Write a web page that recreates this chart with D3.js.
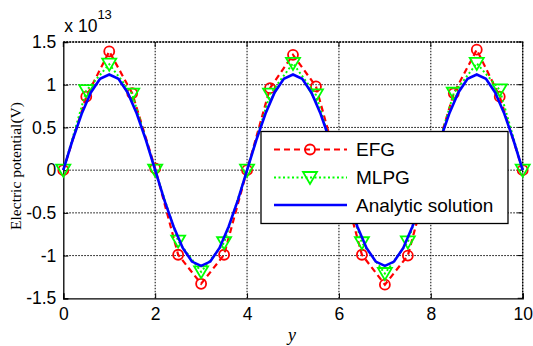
<!DOCTYPE html>
<html>
<head>
<meta charset="utf-8">
<script src="https://cdn.jsdelivr.net/npm/d3@7"></script>
<style>
  body { margin: 0; background: #fff; }
  svg { display: block; }
</style>
</head>
<body>
<div id="chart"></div>
<script>
// sample positions (y coordinate along the domain)
const nodeX = [0, 0.5, 1, 1.5, 2, 2.5, 3, 3.5, 4, 4.5, 5, 5.5, 6, 6.5, 7, 7.5, 8, 8.5, 9, 9.5, 10];
// values in units of 1e13 V
const efgValues = [0, 0.86, 1.39, 0.90, 0.02, -0.99, -1.33, -0.99, 0, 0.96, 1.35, 0.98, 0, -0.99, -1.34, -1.0, 0, 0.90, 1.41, 0.86, 0];
const mlpgValues = [0, 0.93, 1.24, 0.89, 0, -0.83, -1.19, -0.85, 0, 0.89, 1.25, 0.88, 0, -0.85, -1.21, -0.84, 0, 0.90, 1.25, 0.94, 0];
const analyticStep = 0.2;
const analyticValues = [
  0, 0.35, 0.66, 0.91, 1.07, 1.12, 1.07, 0.91, 0.66, 0.35,
  0, -0.35, -0.66, -0.91, -1.07, -1.12, -1.07, -0.91, -0.66, -0.35,
  0, 0.35, 0.66, 0.91, 1.07, 1.12, 1.07, 0.91, 0.66, 0.35,
  0, -0.35, -0.66, -0.91, -1.07, -1.12, -1.07, -0.91, -0.66, -0.35,
  0, 0.35, 0.66, 0.91, 1.07, 1.12, 1.07, 0.91, 0.66, 0.35,
  0
];
const xTicks = [0, 2, 4, 6, 8, 10];
const yTicks = [-1.5, -1, -0.5, 0, 0.5, 1, 1.5];
const yTickLabels = ['-1.5', '-1', '-0.5', '0', '0.5', '1', '1.5'];
const legendLabels = ['EFG', 'MLPG', 'Analytic solution'];

const width = 533, height = 346;
const margin = { left: 63.3, right: 10.3, top: 42, bottom: 47.7 };

const svg = d3.select('#chart').append('svg')
  .attr('width', width)
  .attr('height', height);

const x = d3.scaleLinear().domain([0, 10]).range([margin.left, width - margin.right]);
const y = d3.scaleLinear().domain([-1.5, 1.5]).range([height - margin.bottom, margin.top]);

const x0 = x(0), x1 = x(10), y0 = y(-1.5), y1 = y(1.5);

// grid (dotted)
const grid = svg.append('g').attr('stroke', '#000').attr('stroke-width', 1).attr('stroke-dasharray', '1.5 1.5');
grid.selectAll('.vg').data(xTicks.slice(1)).join('line')
  .attr('x1', d => x(d)).attr('x2', d => x(d)).attr('y1', y0).attr('y2', y1);
grid.selectAll('.hg').data(yTicks.slice(1)).join('line')
  .attr('x1', x0).attr('x2', x1).attr('y1', d => y(d)).attr('y2', d => y(d));

// axes (left & bottom solid, ticks inward)
const xAxis = d3.axisBottom(x).tickValues(xTicks).tickSize(-5).tickPadding(10).tickFormat(d3.format('d'));
const yAxis = d3.axisLeft(y).tickValues(yTicks).tickSize(-5).tickPadding(7)
  .tickFormat((d, i) => yTickLabels[i]);

const gx = svg.append('g').attr('transform', `translate(0,${y0})`).call(xAxis);
const gy = svg.append('g').attr('transform', `translate(${x0},0)`).call(yAxis);
[gx, gy].forEach(g => {
  g.select('.domain').attr('stroke', '#000').attr('stroke-width', 1.3);
  g.selectAll('.tick line').attr('stroke', '#000').attr('stroke-width', 1);
  g.selectAll('.tick text').attr('fill', '#000')
    .style('font-family', '"Liberation Sans", Arial, sans-serif').style('font-size', '17.5px');
});
gx.selectAll('.tick text').attr('dy', '0.68em');

// top/right ticks
const mirror = svg.append('g').attr('stroke', '#000').attr('stroke-width', 1);
mirror.selectAll('.tt').data(xTicks).join('line')
  .attr('x1', d => x(d)).attr('x2', d => x(d)).attr('y1', y1).attr('y2', y1 + 5);
mirror.selectAll('.rt').data(yTicks).join('line')
  .attr('x1', x1).attr('x2', x1 - 5).attr('y1', d => y(d)).attr('y2', d => y(d));
// top and right box edges
svg.append('path')
  .attr('d', `M${x0},${y1}H${x1}V${y0}`)
  .attr('fill', 'none').attr('stroke', '#000').attr('stroke-width', 1.3)
  .attr('stroke-dasharray', '2 1');

// exponent label
const expo = svg.append('text').attr('x', x0 + 1).attr('y', 32)
  .style('font-family', '"Liberation Sans", Arial, sans-serif').style('font-size', '17.5px');
expo.append('tspan').text('x 10');
expo.append('tspan').attr('dy', -13).style('font-size', '13px').text('13');

// axis labels
svg.append('text')
  .attr('transform', `translate(21,166) rotate(-90)`)
  .attr('text-anchor', 'middle')
  .style('font-family', '"Liberation Serif", "Times New Roman", serif').style('font-size', '15.5px')
  .text('Electric potential(V)');
svg.append('text')
  .attr('x', 292).attr('y', 341)
  .attr('text-anchor', 'middle')
  .style('font-family', '"Liberation Serif", "Times New Roman", serif').style('font-size', '18px').style('font-style', 'italic')
  .text('y');

// series
const red = '#ff0000', green = '#00ff00', blue = '#0000ff';
const line = d3.line().x(d => x(d[0])).y(d => y(d[1]));
const efgPts = nodeX.map((d, i) => [d, efgValues[i]]);
const mlpgPts = nodeX.map((d, i) => [d, mlpgValues[i]]);
const anaPts = analyticValues.map((v, i) => [i * analyticStep, v]);

const tri = (cx, cy) => `M${cx - 7},${cy - 5.5}L${cx + 7},${cy - 5.5}L${cx},${cy + 6.5}Z`;

svg.append('path').datum(efgPts).attr('d', line)
  .attr('fill', 'none').attr('stroke', red).attr('stroke-width', 2.2).attr('stroke-dasharray', '6 4');
svg.append('g').selectAll('circle').data(efgPts).join('circle')
  .attr('cx', d => x(d[0])).attr('cy', d => y(d[1])).attr('r', 5)
  .attr('fill', 'none').attr('stroke', red).attr('stroke-width', 1.8);

svg.append('path').datum(mlpgPts).attr('d', line)
  .attr('fill', 'none').attr('stroke', green).attr('stroke-width', 2).attr('stroke-dasharray', '2 2.5');
svg.append('g').selectAll('path').data(mlpgPts).join('path')
  .attr('d', d => tri(x(d[0]), y(d[1])))
  .attr('fill', 'none').attr('stroke', green).attr('stroke-width', 1.8);

svg.append('path').datum(anaPts).attr('d', line)
  .attr('fill', 'none').attr('stroke', blue).attr('stroke-width', 2.6);

// legend
const lg = svg.append('g');
lg.append('rect').attr('x', 261).attr('y', 131.5).attr('width', 247).attr('height', 92)
  .attr('fill', '#fff').attr('stroke', '#000').attr('stroke-width', 1.3);
const rowY = [149.5, 177.5, 205];
const styles = [
  { stroke: red, dash: '6 4', w: 2.2 },
  { stroke: green, dash: '2 2.5', w: 2 },
  { stroke: blue, dash: null, w: 2.6 }
];
legendLabels.forEach((label, i) => {
  lg.append('line').attr('x1', 274).attr('x2', 347).attr('y1', rowY[i]).attr('y2', rowY[i])
    .attr('stroke', styles[i].stroke).attr('stroke-width', styles[i].w)
    .attr('stroke-dasharray', styles[i].dash);
  if (i === 0) {
    lg.append('circle').attr('cx', 310).attr('cy', rowY[i]).attr('r', 5)
      .attr('fill', 'none').attr('stroke', red).attr('stroke-width', 1.8);
  } else if (i === 1) {
    lg.append('path').attr('d', tri(310, rowY[i]))
      .attr('fill', 'none').attr('stroke', green).attr('stroke-width', 1.8);
  }
  lg.append('text').attr('x', 356).attr('y', rowY[i]).attr('dy', '0.36em')
    .style('font-family', '"Liberation Sans", Arial, sans-serif').style('font-size', '19px')
    .text(label);
});
</script>
</body>
</html>
